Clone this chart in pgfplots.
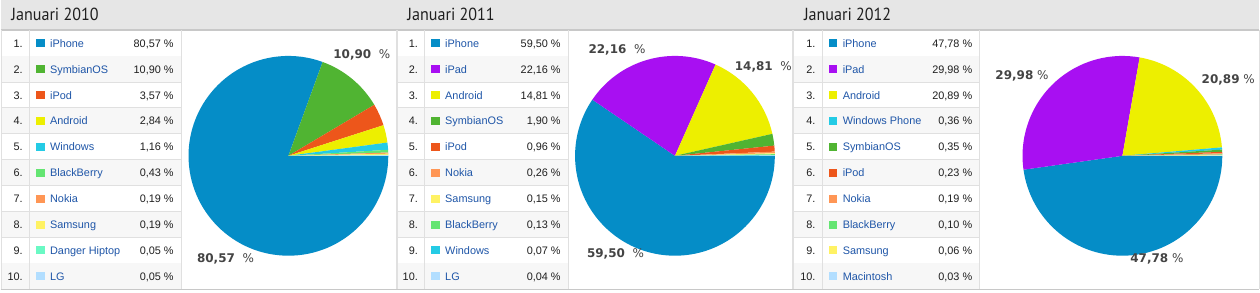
\documentclass[border=0pt]{standalone}
\usepackage{pgfplots}
\pgfplotsset{compat=1.18}
\usepackage{pgfplotstable}
\usepackage{fontspec}
\setmainfont{Liberation Sans}
\newfontfamily\hdrfont[FakeStretch=0.92]{PT Sans}
\newfontfamily\lblfont{DejaVu Sans}

\definecolor{cIphone}{HTML}{058DC7}
\definecolor{cSym}{HTML}{50B432}
\definecolor{cIpod}{HTML}{ED561B}
\definecolor{cAnd}{HTML}{EDEF00}
\definecolor{cWin}{HTML}{24CBE5}
\definecolor{cBB}{HTML}{64E572}
\definecolor{cNok}{HTML}{FF9655}
\definecolor{cSam}{HTML}{FFF263}
\definecolor{cDan}{HTML}{6AF9C4}
\definecolor{cLG}{HTML}{B2DEFF}
\definecolor{cIpad}{HTML}{A80FF2}
\definecolor{nameblue}{HTML}{1F56A8}
\definecolor{hdrgray}{HTML}{E6E6E6}
\definecolor{rowgray}{HTML}{F7F7F7}
\definecolor{linegray}{HTML}{E0E0E0}
\definecolor{bordergray}{HTML}{C8C8C8}
\definecolor{lblgray}{HTML}{444444}

\pgfplotstableread[col sep=comma]{
name,value,color
iPhone,80.57,cIphone
SymbianOS,10.90,cSym
iPod,3.57,cIpod
Android,2.84,cAnd
Windows,1.16,cWin
BlackBerry,0.43,cBB
Nokia,0.19,cNok
Samsung,0.19,cSam
Danger Hiptop,0.05,cDan
LG,0.05,cLG
}\tA

\pgfplotstableread[col sep=comma]{
name,value,color
iPhone,59.50,cIphone
iPad,22.16,cIpad
Android,14.81,cAnd
SymbianOS,1.90,cSym
iPod,0.96,cIpod
Nokia,0.26,cNok
Samsung,0.15,cSam
BlackBerry,0.13,cBB
Windows,0.07,cWin
LG,0.04,cLG
}\tB

\pgfplotstableread[col sep=comma]{
name,value,color
iPhone,47.78,cIphone
iPad,29.98,cIpad
Android,20.89,cAnd
Windows Phone,0.36,cWin
SymbianOS,0.35,cSym
iPod,0.23,cIpod
Nokia,0.19,cNok
BlackBerry,0.10,cBB
Samsung,0.06,cSam
Macintosh,0.03,cLG
}\tC

% pie slices, clockwise from east, radius 100pt
\newcommand\drawpie[1]{%
  \xdef\curang{0}%
  \foreach \r in {0,...,9}{%
    \pgfplotstablegetelem{\r}{value}\of#1\let\vl\pgfplotsretval
    \pgfplotstablegetelem{\r}{color}\of#1\let\cl\pgfplotsretval
    \pgfmathsetmacro\nextang{\curang-3.6*\vl}%
    \fill[fill=\cl] (axis cs:0,0) -- ++(\curang:100pt)
       arc[start angle=\curang,end angle=\nextang,radius=100pt] -- cycle;
    \xdef\curang{\nextang}%
  }%
}

% table panel: #1 table, #2 left x, #3 rank separator, #4 name/value end, #5 right edge, #6 title
\newcommand\panel[6]{%
  \node[anchor=base west,inner sep=0,text=black!88,font=\hdrfont\fontsize{17.5}{20}\selectfont] at (#2+10.5,272) {#6};
  \foreach \r in {0,...,9}{%
    \pgfplotstablegetelem{\r}{name}\of#1\let\nm\pgfplotsretval
    \pgfplotstablegetelem{\r}{value}\of#1\let\vl\pgfplotsretval
    \pgfplotstablegetelem{\r}{color}\of#1\let\cl\pgfplotsretval
    \pgfmathsetmacro\yt{262.7-25.93*\r}%
    \pgfmathsetmacro\yb{\yt-25.93}%
    \pgfmathsetmacro\ybase{245.7-25.93*\r}%
    \pgfmathtruncatemacro\rk{\r+1}%
    \ifodd\r \fill[rowgray] (#2,\yb) rectangle (#4,\yt);\fi
    \draw[linegray,line width=1pt] (#2,\yb) -- (#4,\yb);
    \node[anchor=base east,inner sep=0,text=black!88] at (#3-6.5,\ybase) {\rk.};
    \fill[fill=\cl] (#3+6.6,\ybase) rectangle ++(8.7,8);
    \node[anchor=base west,inner sep=0,text=nameblue] at (#3+20.5,\ybase) {\nm};
    \node[anchor=base east,inner sep=0,text=black!88] at (#4-7.2,\ybase)
      {\pgfmathprintnumber[fixed,fixed zerofill,precision=2,use comma,assume math mode=true]{\vl}~\%};
  }%
  \draw[linegray,line width=1pt] (#3,3.4) -- (#3,262.7);
  \draw[linegray,line width=1pt] (#4,3.4) -- (#4,262.7);
  \draw[linegray,line width=1pt] (#2+0.5,3.4) -- (#2+0.5,262.7);
  \draw[linegray,line width=1pt] (#5-0.5,3.4) -- (#5-0.5,262.7);
}

\begin{document}
\begin{tikzpicture}[x=1pt,y=1pt]
\fill[white] (0,0) rectangle (1260,293);
\fill[hdrgray] (0,264) rectangle (1260,293);
\draw[bordergray,line width=1.5pt] (0,263.2) -- (1260,263.2);

\begingroup\fontsize{10.9}{12}\selectfont
\panel{\tA}{0}{28.7}{180.5}{396.5}{Januari 2010}
\panel{\tB}{396.5}{424.3}{568}{793.5}{Januari 2011}
\panel{\tC}{793.5}{822.3}{980}{1260.5}{Januari 2012}
\endgroup
\draw[bordergray,line width=1.4pt] (0,3.2) -- (1260,3.2);

\begin{axis}[at={(288,137)},anchor=center,width=200pt,height=200pt,scale only axis,
  xmin=-1,xmax=1,ymin=-1,ymax=1,hide axis,clip=false]
\pgfplotsextra{\drawpie{\tA}}
\end{axis}
\begin{axis}[at={(675,137)},anchor=center,width=200pt,height=200pt,scale only axis,
  xmin=-1,xmax=1,ymin=-1,ymax=1,hide axis,clip=false]
\pgfplotsextra{\drawpie{\tB}}
\end{axis}
\begin{axis}[at={(1123,137)},anchor=center,width=200pt,height=200pt,scale only axis,
  xmin=-1,xmax=1,ymin=-1,ymax=1,hide axis,clip=false]
\pgfplotsextra{\drawpie{\tC}}
\end{axis}

\begingroup
\tikzset{lbl/.style={text=lblgray,inner sep=0,font=\lblfont\fontsize{12}{14}\selectfont}}
\node[lbl] at (361.5,238) {\textbf{10,90}~~\%};
\node[lbl] at (225,33.5) {\textbf{80,57}~~\%};
\node[lbl] at (617,243.5) {\textbf{22,16}~~\%};
\node[lbl] at (763.5,226.5) {\textbf{14,81}~~\%};
\node[lbl] at (615.5,38.5) {\textbf{59,50}~~\%};
\node[lbl] at (1022.5,217.5) {\textbf{29,98}~\%};
\node[lbl] at (1229,213) {\textbf{20,89}~\%};
\node[lbl] at (1157.5,33.5) {\textbf{47,78}~\%};
\endgroup
\end{tikzpicture}
\end{document}
